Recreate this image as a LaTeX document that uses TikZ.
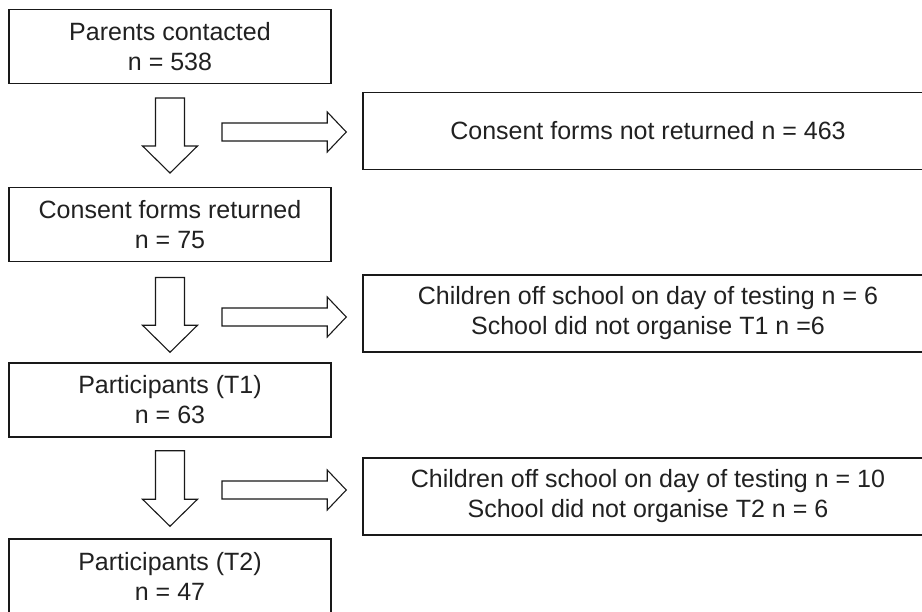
\documentclass[tikz,border=0pt]{standalone}
\usepackage{fontspec}
\setmainfont{Liberation Sans}
\usetikzlibrary{calc}
\newcommand\downblk[2]{\draw[blk] let \p1=(#1), \p2=(#2) in
  (\x1-14.5pt,\y1) -- (\x1+14.5pt,\y1) -- (\x1+14.5pt,\y2+27pt) -- (\x1+27.5pt,\y2+27pt)
  -- (\x1,\y2) -- (\x1-27.5pt,\y2+27pt) -- (\x1-14.5pt,\y2+27pt) -- cycle;}
\newcommand\rightblk[2]{\draw[blk] let \p1=(#1), \p2=(#2) in
  (\x1,\y1+9pt) -- (\x2-19pt,\y1+9pt) -- (\x2-19pt,\y1+20pt) -- (\x2,\y1)
  -- (\x2-19pt,\y1-20pt) -- (\x2-19pt,\y1-9pt) -- (\x1,\y1-9pt) -- cycle;}
\begin{document}
\begin{tikzpicture}[x=1pt,y=-1pt,
  box/.style={draw=black!90, line width=1.5pt, align=center, inner sep=0pt,
    font=\fontsize{25}{30}\selectfont, text=black!87},
  lbox/.style={box, minimum width=322pt, minimum height=74pt},
  rbox/.style={box, minimum width=570pt, minimum height=77pt},
  blk/.style={draw=black!90, line width=1.1pt, fill=white, line join=miter}]
\useasboundingbox (0,0) rectangle (922,612);
\clip (0,0) rectangle (922,612);
\fill[white] (0,0) rectangle (922,612);

\node[lbox] (b1) at (170,46.75) {Parents contacted\\n = 538};
\node[rbox] (b2) at (648,131) {Consent forms not returned n = 463};
\node[lbox] (b3) at (170,224.75) {Consent forms returned\\n = 75};
\node[rbox] (b4) at (648,313.5) {Children off school on day of testing n = 6\\School did not organise T1 n =6};
\node[lbox] (b5) at (170,400) {Participants (T1)\\n = 63};
\node[rbox] (b6) at (648,496.5) {Children off school on day of testing n = 10\\School did not organise T2 n = 6};
\node[lbox] (b7) at (170,576) {Participants (T2)\\n = 47};

\coordinate (d1s) at ($(b1.south)+(0,13.5)$);
\coordinate (d1e) at ($(b3.north)+(0,-14)$);
\coordinate (d2s) at ($(b3.south)+(0,15)$);
\coordinate (d2e) at ($(b5.north)+(0,-10)$);
\coordinate (d3s) at ($(b5.south)+(0,13)$);
\coordinate (d3e) at ($(b7.north)+(0,-12)$);
\downblk{d1s}{d1e}
\downblk{d2s}{d2e}
\downblk{d3s}{d3e}

\coordinate (r1s) at (222,132);
\coordinate (r1e) at ($(b2.west |- r1s)+(-16,0)$);
\coordinate (r2s) at (222,317);
\coordinate (r2e) at ($(b4.west |- r2s)+(-16,0)$);
\coordinate (r3s) at (222,490);
\coordinate (r3e) at ($(b6.west |- r3s)+(-16,0)$);
\rightblk{r1s}{r1e}
\rightblk{r2s}{r2e}
\rightblk{r3s}{r3e}
\end{tikzpicture}
\end{document}
